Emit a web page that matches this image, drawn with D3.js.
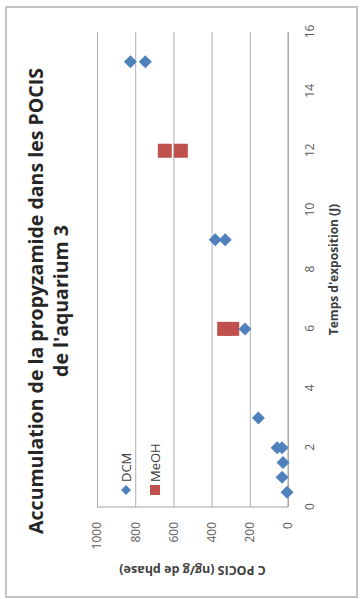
<!DOCTYPE html>
<html><head><meta charset="utf-8">
<script src="https://cdn.jsdelivr.net/npm/d3@7"></script>
<style>body{margin:0;background:#fff}svg{display:block}</style>
</head><body><svg id="c" width="360" height="599"></svg>
<script>
const titleLines = ["Accumulation de la propyzamide dans les POCIS", "de l'aquarium 3"];
const xTitle = "Temps d'exposition (J)";
const yTitle = "C POCIS (ng/g de phase)";
const xTicks = [0, 2, 4, 6, 8, 10, 12, 14, 16];
const yTicks = [0, 200, 400, 600, 800, 1000];
const seriesNames = ["DCM", "MeOH"];
const dcmTime  = [0.5, 1, 1.5, 2, 2, 3, 6, 9, 9, 15, 15];
const dcmValue = [5, 31, 26, 57, 31, 155, 225, 381, 329, 825, 747];
const meohTime  = [6, 6, 12, 12];
const meohValue = [334, 292, 645, 561];

const W = 360, H = 599;
const blue = "#4F81BD", red = "#C0504D";
const font = "'Open Sans', 'Liberation Sans', sans-serif";

const svg = d3.select("#c");
// whole chart is drawn unrotated, then turned 90° counter-clockwise
const g = svg.append("g").attr("transform", `translate(0,${H}) rotate(-90)`);

g.append("rect").attr("x", 2).attr("y", 6).attr("width", 590).attr("height", 351)
  .attr("fill", "#fff").attr("stroke", "#c4c4c4").attr("stroke-width", 2);

const x = d3.scaleLinear().domain([0, 16]).range([92, 567]);
const y = d3.scaleLinear().domain([0, 1000]).range([288, 97]);

// value axis with gridlines
const yAx = g.append("g").attr("transform", `translate(${x(0)},0)`)
  .call(d3.axisLeft(y).tickValues(yTicks).tickFormat(d3.format("d"))
    .tickSize(-(x(16) - x(0))).tickSizeOuter(0).tickPadding(15));
yAx.select(".domain").remove();
yAx.selectAll(".tick line").attr("stroke", "#b0b0b0").attr("stroke-width", 1);
yAx.selectAll(".tick text").attr("font-family", font).attr("font-size", 12).attr("fill", "#595959");

// time axis
const xAx = g.append("g").attr("transform", `translate(0,${y(0)})`)
  .call(d3.axisBottom(x).tickValues(xTicks).tickFormat(d3.format("d")).tickSize(0).tickPadding(17));
xAx.select(".domain").remove();
xAx.selectAll(".tick text").attr("font-family", font).attr("font-size", 12).attr("fill", "#595959");

// axis lines
g.append("line").attr("x1", x(0)).attr("x2", x(16)).attr("y1", y(0)).attr("y2", y(0))
  .attr("stroke", "#a0a0a0").attr("stroke-width", 1);
g.append("line").attr("x1", x(0)).attr("x2", x(0)).attr("y1", y(0)).attr("y2", y(1000))
  .attr("stroke", "#a0a0a0").attr("stroke-width", 1);

const diamond = r => `M0,${-r}L${r},0L0,${r}L${-r},0Z`;
const square = s => `M${-s/2},${-s/2}h${s}v${s}h${-s}Z`;

g.append("g").selectAll("path").data(meohTime.map((t, i) => [t, meohValue[i]])).join("path")
  .attr("d", square(14)).attr("fill", red)
  .attr("transform", d => `translate(${x(d[0])},${y(d[1])})`);
g.append("g").selectAll("path").data(dcmTime.map((t, i) => [t, dcmValue[i]])).join("path")
  .attr("d", diamond(6.5)).attr("fill", blue)
  .attr("transform", d => `translate(${x(d[0])},${y(d[1])})`);

// title
const tg = g.append("g");
const t1 = tg.append("text").attr("x", 298).attr("y", 35).attr("text-anchor", "middle")
  .attr("dominant-baseline", "central").attr("font-family", font).attr("font-weight", "bold")
  .attr("font-size", 18).attr("fill", "#262626").text(titleLines[0]);
const len = t1.node().getComputedTextLength();
const fs = 18 * 466 / len;
t1.attr("font-size", fs);
tg.append("text").attr("x", 298).attr("y", 60).attr("text-anchor", "middle")
  .attr("dominant-baseline", "central").attr("font-family", font).attr("font-weight", "bold")
  .attr("font-size", fs).attr("fill", "#262626").text(titleLines[1]);

// axis titles
g.append("text").attr("x", (x(0) + x(16)) / 2).attr("y", 333).attr("text-anchor", "middle")
  .attr("dominant-baseline", "central").attr("font-family", font).attr("font-weight", "bold")
  .attr("font-size", 12).attr("fill", "#404040").text(xTitle);
g.append("text").attr("transform", `translate(29,${(y(0) + y(1000)) / 2}) rotate(-90)`)
  .attr("text-anchor", "middle").attr("dominant-baseline", "central").attr("font-family", font)
  .attr("font-weight", "bold").attr("font-size", 12.5).attr("fill", "#404040").text(yTitle);

// legend
const lg = g.append("g");
const lv = [126, 155];
lg.append("path").attr("d", diamond(5)).attr("fill", blue).attr("transform", `translate(109,${lv[0]})`);
lg.append("path").attr("d", square(10)).attr("fill", red).attr("transform", `translate(109,${lv[1]})`);
lg.selectAll("text").data(seriesNames).join("text")
  .attr("x", 117).attr("y", (d, i) => lv[i]).attr("dominant-baseline", "central")
  .attr("font-family", font).attr("font-size", 13).attr("fill", "#404040").text(d => d);
</script></body></html>
